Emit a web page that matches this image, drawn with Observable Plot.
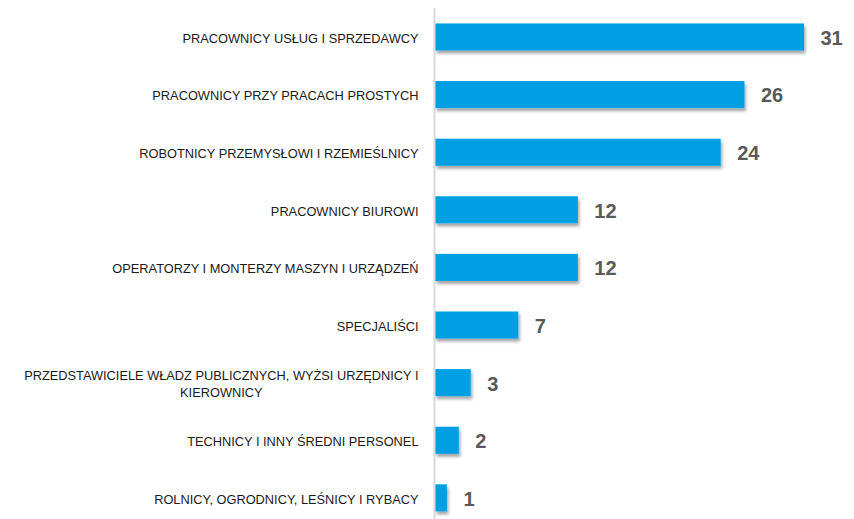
<!DOCTYPE html>
<html>
<head>
<meta charset="utf-8">
<script src="https://cdn.jsdelivr.net/npm/d3@7"></script>
<script src="https://cdn.jsdelivr.net/npm/@observablehq/plot@0.6"></script>
<style>
  html, body { margin: 0; padding: 0; background: #fff; }
  #chart svg { display: block; }
</style>
</head>
<body>
<div id="chart"></div>
<script>
const categories = [
  "PRACOWNICY USŁUG I SPRZEDAWCY",
  "PRACOWNICY PRZY PRACACH PROSTYCH",
  "ROBOTNICY PRZEMYSŁOWI I RZEMIEŚLNICY",
  "PRACOWNICY BIUROWI",
  "OPERATORZY I MONTERZY MASZYN I URZĄDZEŃ",
  "SPECJALIŚCI",
  "PRZEDSTAWICIELE WŁADZ PUBLICZNYCH, WYŻSI URZĘDNICY I\nKIEROWNICY",
  "TECHNICY I INNY ŚREDNI PERSONEL",
  "ROLNICY, OGRODNICY, LEŚNICY I RYBACY"
];
const values = [31, 26, 24, 12, 12, 7, 3, 2, 1];

const data = categories.map((c, i) => ({name: c, value: values[i]}));

const chart = Plot.plot({
  width: 854,
  height: 519,
  marginLeft: 435,
  marginRight: 50,
  marginTop: 8,
  marginBottom: 0,
  style: {fontFamily: "'Liberation Sans', Arial, sans-serif", background: "#fff"},
  x: {domain: [0, 31], axis: null},
  y: {domain: categories, axis: null, paddingInner: 0.53, paddingOuter: 0.2, align: 0.67, round: false},
  marks: [
    Plot.barX(data, {x: "value", y: "name", fill: "#009fe3", className: "bars"}),
    Plot.ruleX([0], {stroke: "#d9d9d9", strokeWidth: 2, dx: -1}),
    Plot.text(data, {x: 0, y: "name", text: "name", textAnchor: "end", dx: -17,
      fontSize: 12.8, fill: "#1a1a1a", lineHeight: 1.3, className: "cats"}),
    Plot.text(data, {x: "value", y: "name", text: d => String(d.value), textAnchor: "start",
      dx: 16, dy: 1, fontSize: 20, fontWeight: "bold", fill: "#595959"})
  ]
});

document.getElementById("chart").appendChild(chart);

// drop shadow for bars
const ns = "http://www.w3.org/2000/svg";
const defs = document.createElementNS(ns, "defs");
defs.innerHTML = '<filter id="sh" x="-5%" y="-30%" width="115%" height="180%"><feDropShadow dx="1.5" dy="3" stdDeviation="1.6" flood-color="#000" flood-opacity="0.35"/></filter>';
chart.insertBefore(defs, chart.firstChild);
const bars = chart.querySelector("g.bars");
if (bars) bars.setAttribute("filter", "url(#sh)");

// center additional lines of multi-line category labels under the first line
chart.querySelectorAll("g.cats text").forEach(t => {
  const spans = t.querySelectorAll("tspan");
  if (spans.length > 1) {
    const w0 = spans[0].getComputedTextLength();
    spans.forEach((s, i) => {
      if (i > 0) {
        const w = s.getComputedTextLength();
        s.setAttribute("x", -(w0 - w) / 2);
      }
    });
  }
});
</script>
</body>
</html>
